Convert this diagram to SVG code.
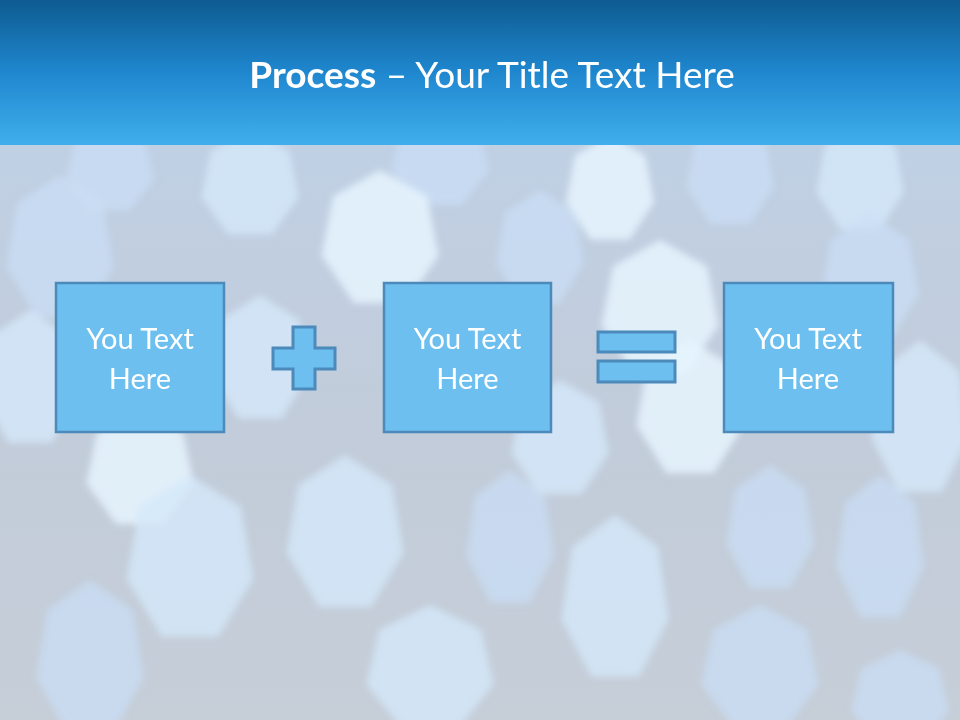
<svg xmlns="http://www.w3.org/2000/svg" width="960" height="720" viewBox="0 0 960 720">
  <defs>
    <linearGradient id="hdr" x1="0" y1="0" x2="0" y2="1">
      <stop offset="0" stop-color="#0e5b91"/>
      <stop offset="0.5" stop-color="#1f87cf"/>
      <stop offset="1" stop-color="#40aeeb"/>
    </linearGradient>
    <linearGradient id="bg" x1="0" y1="0" x2="0" y2="1">
      <stop offset="0" stop-color="#c0d0e4"/>
      <stop offset="0.5" stop-color="#c2ccda"/>
      <stop offset="1" stop-color="#c6ced8"/>
    </linearGradient>
    <filter id="soft" x="-20%" y="-20%" width="140%" height="140%">
      <feGaussianBlur stdDeviation="3.5"/>
    </filter>
    <path id="hep" d="M0,-50 L39.09,-31.17 L48.75,11.13 L21.69,45.05 L-21.69,45.05 L-48.75,11.13 L-39.09,-31.17 Z"/>
    <style>
      .box { fill: #6dbfef; stroke: #4b8aba; stroke-width: 2.5; }
      .sym { fill: #6dbfef; stroke: #4b8aba; stroke-width: 3; }
      .lbl { font-family: Lato, "Open Sans", "Liberation Sans", sans-serif; font-size: 29px; fill: #ffffff; text-anchor: middle; }
      .title { font-family: Lato, "Open Sans", "Liberation Sans", sans-serif; font-size: 37px; fill: #ffffff; text-anchor: middle; }
      .bk1 { fill: #d4e8fa; opacity: 0.8; }
      .bk2 { fill: #c9def6; opacity: 0.75; }
      .bk3 { fill: #e6f5fe; opacity: 0.85; }
    </style>
  </defs>

  <!-- background -->
  <rect x="0" y="145" width="960" height="575" fill="url(#bg)"/>
  <g id="bokeh" filter="url(#soft)">
    <use href="#hep" class="bk2" transform="translate(60,250) scale(1.1,1.5)"/>
    <use href="#hep" class="bk2" transform="translate(110,170) scale(0.9,0.9)"/>
    <use href="#hep" class="bk1" transform="translate(250,185) scale(1.0,1.1)"/>
    <use href="#hep" class="bk2" transform="translate(440,160) scale(1.0,1.0)"/>
    <use href="#hep" class="bk3" transform="translate(380,240) scale(1.2,1.4)"/>
    <use href="#hep" class="bk3" transform="translate(610,190) scale(0.9,1.1)"/>
    <use href="#hep" class="bk2" transform="translate(730,175) scale(0.9,1.1)"/>
    <use href="#hep" class="bk1" transform="translate(860,180) scale(0.9,1.1)"/>
    <use href="#hep" class="bk2" transform="translate(870,280) scale(1.0,1.3)"/>
    <use href="#hep" class="bk3" transform="translate(660,310) scale(1.2,1.4)"/>
    <use href="#hep" class="bk2" transform="translate(540,250) scale(0.9,1.2)"/>
    <use href="#hep" class="bk1" transform="translate(30,380) scale(1.0,1.4)"/>
    <use href="#hep" class="bk3" transform="translate(140,470) scale(1.1,1.2)"/>
    <use href="#hep" class="bk1" transform="translate(260,360) scale(1.0,1.3)"/>
    <use href="#hep" class="bk1" transform="translate(560,440) scale(1.0,1.2)"/>
    <use href="#hep" class="bk3" transform="translate(690,410) scale(1.1,1.4)"/>
    <use href="#hep" class="bk1" transform="translate(920,420) scale(1.0,1.6)"/>
    <use href="#hep" class="bk1" transform="translate(190,560) scale(1.3,1.7)"/>
    <use href="#hep" class="bk1" transform="translate(345,535) scale(1.2,1.6)"/>
    <use href="#hep" class="bk2" transform="translate(90,660) scale(1.1,1.6)"/>
    <use href="#hep" class="bk1" transform="translate(430,670) scale(1.3,1.3)"/>
    <use href="#hep" class="bk2" transform="translate(510,540) scale(0.9,1.4)"/>
    <use href="#hep" class="bk1" transform="translate(615,600) scale(1.1,1.7)"/>
    <use href="#hep" class="bk2" transform="translate(770,530) scale(0.9,1.3)"/>
    <use href="#hep" class="bk2" transform="translate(760,670) scale(1.2,1.3)"/>
    <use href="#hep" class="bk2" transform="translate(880,550) scale(0.9,1.5)"/>
    <use href="#hep" class="bk2" transform="translate(900,700) scale(1.0,1.0)"/>
  </g>

  <!-- header -->
  <g id="header">
    <rect x="0" y="0" width="960" height="145" fill="url(#hdr)"/>
    <text class="title" x="492" y="88"><tspan font-weight="bold">Process</tspan> – Your Title Text Here</text>
  </g>

  <g id="node1">
    <rect class="box" x="56" y="283" width="168" height="149"/>
    <text class="lbl" x="140" y="349">You Text</text>
    <text class="lbl" x="140" y="389">Here</text>
  </g>
  <g id="plus">
    <path class="sym" d="M293,327 H315 V348 H335 V369 H315 V389 H293 V369 H273 V348 H293 Z"/>
  </g>
  <g id="node2">
    <rect class="box" x="384" y="283" width="167" height="149"/>
    <text class="lbl" x="467.5" y="349">You Text</text>
    <text class="lbl" x="467.5" y="389">Here</text>
  </g>
  <g id="equals">
    <rect class="sym" x="598" y="332" width="77" height="20"/>
    <rect class="sym" x="598" y="361" width="77" height="21"/>
  </g>
  <g id="node3">
    <rect class="box" x="724" y="283" width="169" height="149"/>
    <text class="lbl" x="808" y="349">You Text</text>
    <text class="lbl" x="808" y="389">Here</text>
  </g>
  <g id="connectors"/>
</svg>
